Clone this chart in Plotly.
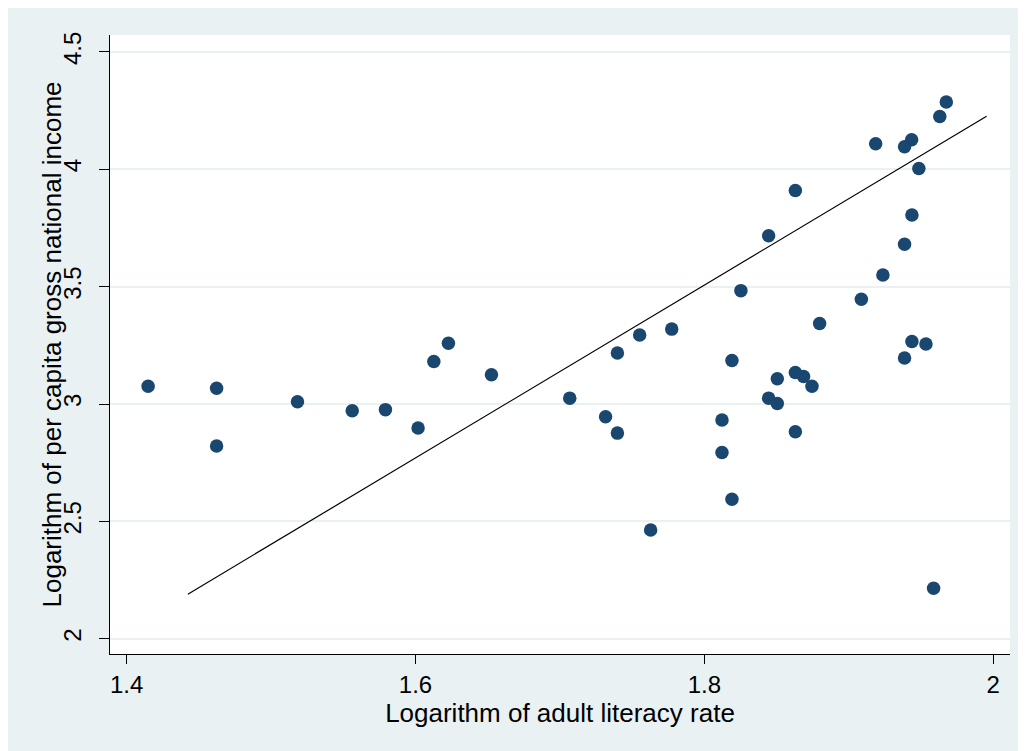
import plotly.graph_objects as go

# Scatter data: log adult literacy rate (x) vs log per-capita GNI (y)
lit = [1.4149, 1.4623, 1.4623, 1.5183, 1.5562, 1.5792, 1.6018, 1.6127, 1.6228, 1.6526,
       1.7068, 1.7316, 1.7398, 1.7398, 1.7552, 1.7774, 1.7628, 1.8191, 1.8122, 1.8122,
       1.8191, 1.8505, 1.8445, 1.8505, 1.8630, 1.8687, 1.8745, 1.8630, 1.8798, 1.9087,
       1.9386, 1.9437, 1.9534, 1.9587, 1.9675, 1.9630, 1.9186, 1.9435, 1.9386, 1.9485,
       1.8630, 1.8445, 1.9437, 1.9386, 1.9236, 1.8253]
gni = [3.076, 3.067, 2.821, 3.010, 2.971, 2.976, 2.898, 3.181, 3.259, 3.125,
       3.025, 2.946, 2.876, 3.217, 3.294, 3.319, 2.463, 3.185, 2.932, 2.793,
       2.594, 3.108, 3.025, 3.002, 3.134, 3.117, 3.076, 2.882, 3.343, 3.446,
       3.196, 3.266, 3.256, 2.215, 4.287, 4.225, 4.109, 4.126, 4.096, 4.003,
       3.910, 3.717, 3.805, 3.681, 3.550, 3.483]

# Fitted line end points
fit_x = [1.4424, 1.9954]
fit_y = [2.190, 4.226]

x_ticks = [1.4, 1.6, 1.8, 2.0]
x_tick_text = ["1.4", "1.6", "1.8", "2"]
y_ticks = [2, 2.5, 3, 3.5, 4, 4.5]
y_tick_text = ["2", "2.5", "3", "3.5", "4", "4.5"]

BG = "#E9F1F3"
NAVY = "#1A476F"
FONT = "Liberation Sans, Arial, sans-serif"

fig = go.Figure()
fig.add_trace(go.Scatter(x=lit, y=gni, mode="markers",
                         marker=dict(color=NAVY, size=13.5, line=dict(width=0)),
                         showlegend=False, hoverinfo="x+y"))
fig.add_trace(go.Scatter(x=fit_x, y=fit_y, mode="lines",
                         line=dict(color="black", width=1.2),
                         showlegend=False))

W, H = 1017, 743
L, R, T, B = 102, 15, 27, 97
pw = W - L - R

fig.add_annotation(
    text="Logarithm of per capita gross national income",
    xref="paper", yref="paper", x=(43 - L) / pw, y=0.5,
    xanchor="center", yanchor="middle", textangle=-90, showarrow=False,
    font=dict(size=26, family=FONT, color="black"),
)

fig.update_layout(
    width=W, height=H,
    margin=dict(l=L, r=R, t=T, b=B, pad=0),
    paper_bgcolor=BG,
    plot_bgcolor="white",
    font=dict(family=FONT, color="black"),
    xaxis=dict(
        range=[1.3885, 2.0116], tickvals=x_ticks, ticktext=x_tick_text,
        showgrid=False, zeroline=False,
        showline=True, linecolor="black", linewidth=1,
        ticks="outside", ticklen=9, tickcolor="black", tickwidth=1,
        tickfont=dict(size=24, family=FONT, color="black"),
        ticklabelstandoff=0,
        title=dict(text="Logarithm of adult literacy rate",
                   font=dict(size=26, family=FONT, color="black"), standoff=1),
    ),
    yaxis=dict(
        range=[1.935, 4.572], tickvals=y_ticks, ticktext=y_tick_text,
        showgrid=True, gridcolor=BG, gridwidth=2, zeroline=False,
        showline=True, linecolor="black", linewidth=1,
        ticks="outside", ticklen=10, tickcolor="black", tickwidth=1,
        tickangle=-90,
        tickfont=dict(size=24, family=FONT, color="black"),
        ticklabelstandoff=8,
    ),
)

fig.write_html("out.html")
